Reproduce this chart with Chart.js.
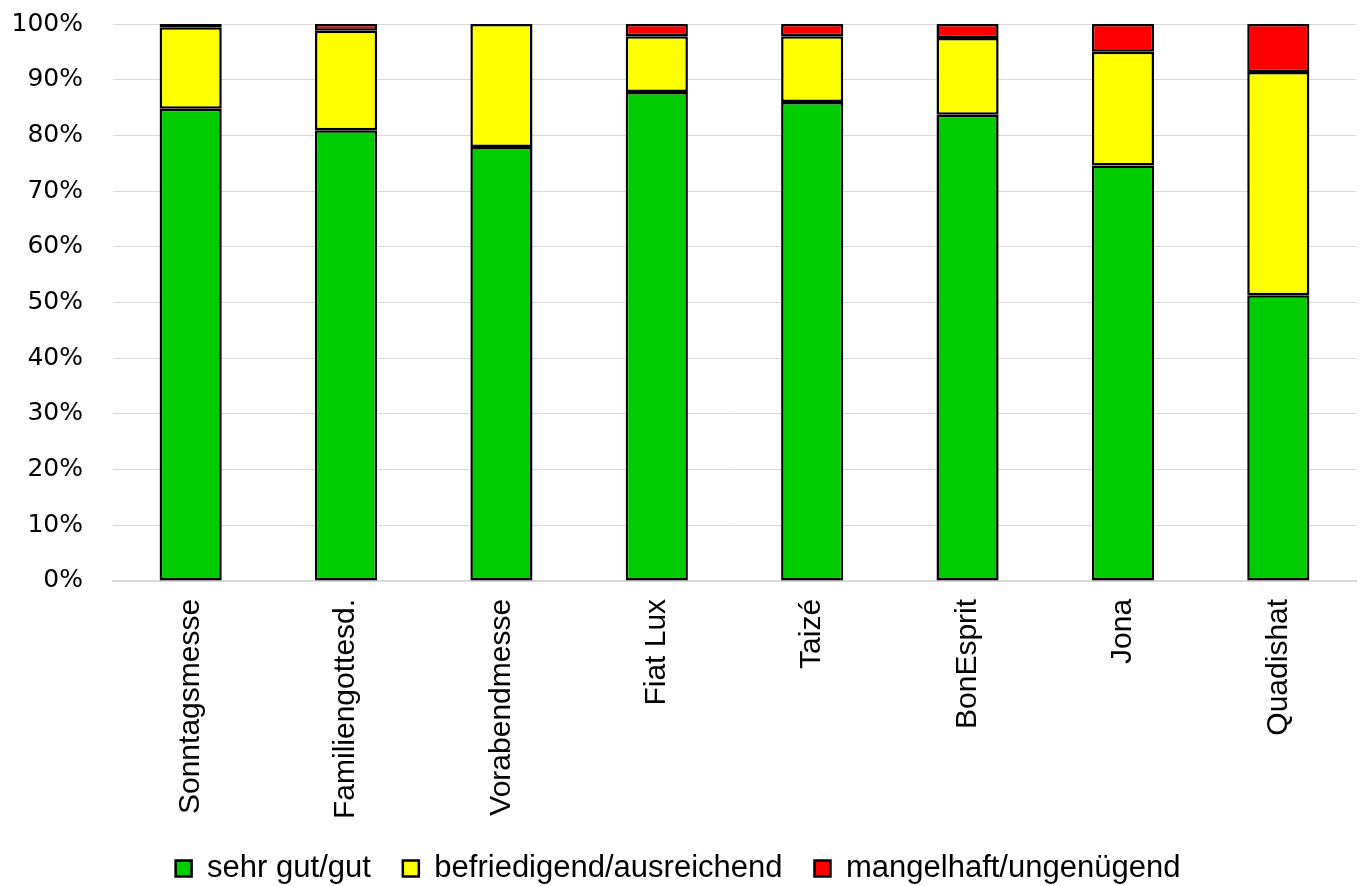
<!DOCTYPE html>
<html>
<head>
<meta charset="utf-8">
<script src="https://cdn.jsdelivr.net/npm/chart.js@4/dist/chart.umd.min.js"></script>
<style>
  html, body { margin: 0; padding: 0; background: #fff; }
  #wrap { width: 1367px; height: 886px; }
</style>
</head>
<body>
<div id="wrap"><canvas id="c" width="1367" height="886"></canvas></div>
<script>
const categories = ["Sonntagsmesse", "Familiengottesd.", "Vorabendmesse", "Fiat Lux", "Taizé", "BonEsprit", "Jona", "Quadishat"];
const sehrGutGut = [84.8, 80.9, 77.9, 87.8, 86.0, 83.7, 74.6, 51.3];
const befriedigendAusreichend = [14.6, 17.9, 22.1, 10.0, 11.8, 13.8, 20.4, 40.1];
const mangelhaftUngenuegend = [0.6, 1.2, 0.0, 2.2, 2.2, 2.5, 5.0, 8.6];
const yTickValues = [0, 10, 20, 30, 40, 50, 60, 70, 80, 90, 100];

const barStyle = { borderColor: "#000", borderWidth: 2.5, borderSkipped: false, barPercentage: 0.4, categoryPercentage: 1.0 };

new Chart(document.getElementById("c"), {
  type: "bar",
  data: {
    labels: categories,
    datasets: [
      Object.assign({ label: "sehr gut/gut", data: sehrGutGut, backgroundColor: "#00cc00" }, barStyle),
      Object.assign({ label: "befriedigend/ausreichend", data: befriedigendAusreichend, backgroundColor: "#ffff00" }, barStyle),
      Object.assign({ label: "mangelhaft/ungenügend", data: mangelhaftUngenuegend, backgroundColor: "#ff0000" }, barStyle)
    ]
  },
  options: {
    responsive: false,
    animation: false,
    layout: { padding: { top: 24, right: 11, left: 0, bottom: -8 } },
    plugins: {
      tooltip: { enabled: false },
      legend: {
        position: "bottom",
        labels: {
          color: "#000",
          boxWidth: 16,
          boxHeight: 16,
          padding: 32,
          font: { family: "'Liberation Sans', Arial, sans-serif", size: 31 }
        }
      }
    },
    scales: {
      x: {
        stacked: true,
        grid: { display: false, drawTicks: false },
        border: { color: "#d9d9d9", width: 2 },
        afterFit: (axis) => { axis.height -= 16; },
        ticks: {
          color: "#000",
          minRotation: 90,
          maxRotation: 90,
          padding: 18,
          font: { family: "'Liberation Sans', Arial, sans-serif", size: 30 }
        }
      },
      y: {
        stacked: true,
        min: 0,
        max: 100,
        afterBuildTicks: (axis) => { axis.ticks = yTickValues.map(v => ({ value: v })); },
        afterFit: (axis) => { axis.width = 113; axis.paddingTop = 0; axis.paddingBottom = 0; },
        grid: { color: "#d9d9d9", lineWidth: 1, drawTicks: false },
        border: { display: false },
        ticks: {
          color: "#000",
          padding: 30,
          font: { family: "'DejaVu Sans', sans-serif", size: 25 },
          callback: (v) => v + "%"
        }
      }
    }
  }
});
</script>
</body>
</html>
